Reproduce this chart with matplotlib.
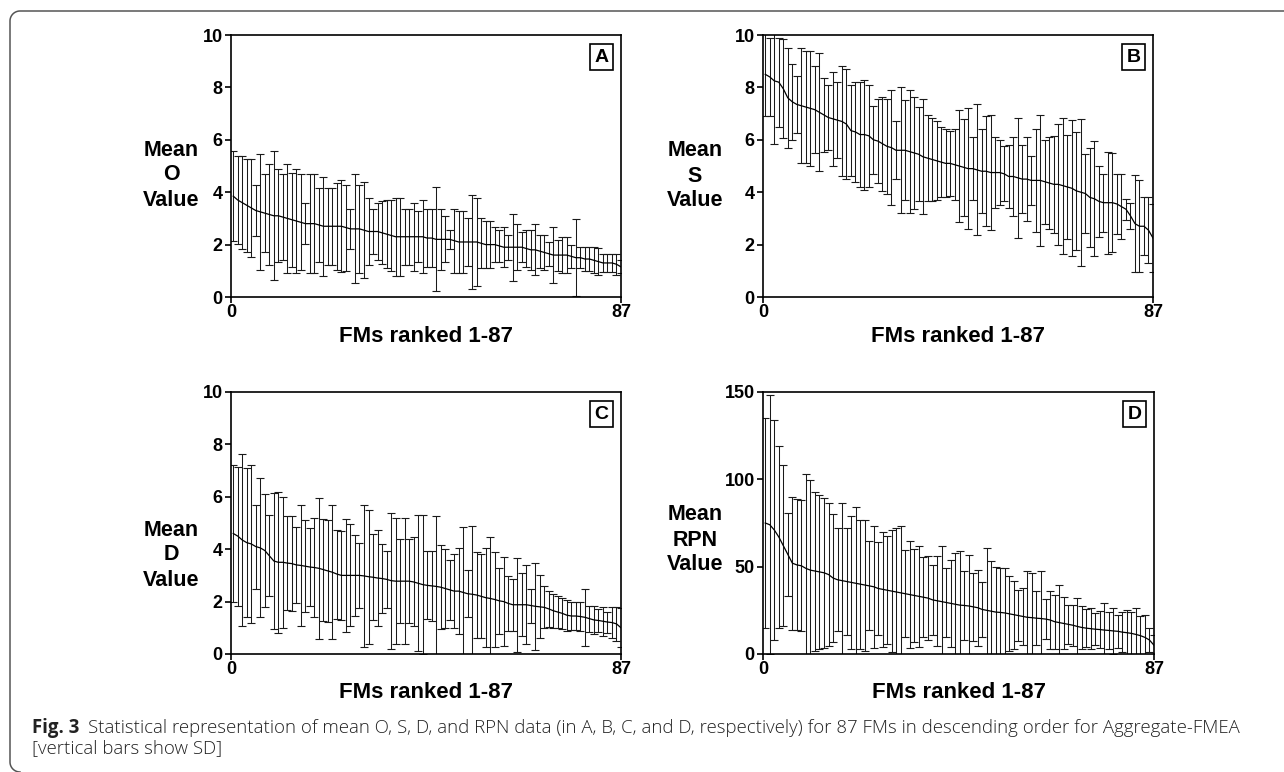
import numpy as np
import matplotlib
matplotlib.use('Agg')
import matplotlib.pyplot as plt
from matplotlib.lines import Line2D

# ---------------- data ----------------
n_fm = 87
rank_ticks = [0, 87]
rank_ticklabels = ['0', '87']

o_mean = [3.85, 3.7, 3.6, 3.5, 3.4, 3.3, 3.25, 3.2, 3.15, 3.1, 3.1, 3.05, 3.0, 2.95, 2.9,
          2.85, 2.8, 2.8, 2.8, 2.75, 2.7, 2.7, 2.7, 2.7, 2.7, 2.65, 2.6, 2.6, 2.6, 2.55,
          2.5, 2.5, 2.5, 2.45, 2.4, 2.35, 2.3, 2.3, 2.3, 2.3, 2.3, 2.3, 2.3, 2.25, 2.25,
          2.2, 2.2, 2.2, 2.2, 2.15, 2.1, 2.1, 2.1, 2.1, 2.1, 2.05, 2.0, 2.0, 2.0, 1.95,
          1.9, 1.9, 1.9, 1.9, 1.9, 1.85, 1.8, 1.8, 1.75, 1.7, 1.65, 1.6, 1.6, 1.6, 1.6,
          1.55, 1.5, 1.5, 1.45, 1.45, 1.4, 1.35, 1.3, 1.3, 1.3, 1.25, 1.15]
o_sd = [1.72, 1.68, 1.78, 1.77, 1.87, 0.99, 2.22, 1.48, 1.94, 2.47, 1.77, 1.63, 2.08, 1.79, 1.97,
        1.83, 0.79, 1.88, 1.88, 1.42, 1.88, 1.47, 1.47, 1.66, 1.75, 1.64, 0.77, 2.08, 1.69, 1.84,
        1.28, 0.87, 1.09, 1.20, 1.29, 1.34, 1.48, 1.48, 1.07, 1.07, 1.29, 0.98, 1.39, 1.12, 1.12,
        1.99, 1.17, 0.88, 0.37, 1.22, 1.17, 1.17, 0.90, 1.78, 1.68, 0.95, 0.89, 0.89, 0.67, 0.62,
        0.77, 0.48, 1.28, 0.87, 0.58, 0.69, 0.77, 0.97, 0.63, 0.68, 0.45, 1.07, 0.59, 0.69, 0.70,
        0.45, 1.48, 0.41, 0.45, 0.44, 0.49, 0.52, 0.35, 0.35, 0.35, 0.40, 0.25]

s_mean = [8.5, 8.4, 8.25, 8.2, 7.95, 7.6, 7.45, 7.35, 7.3, 7.25, 7.2, 7.15, 7.05, 6.95, 6.85,
          6.8, 6.75, 6.7, 6.6, 6.35, 6.3, 6.2, 6.2, 6.15, 6.0, 5.95, 5.85, 5.75, 5.7, 5.6,
          5.6, 5.6, 5.55, 5.5, 5.45, 5.35, 5.3, 5.25, 5.2, 5.15, 5.1, 5.1, 5.05, 5.0, 4.95,
          4.9, 4.9, 4.85, 4.8, 4.8, 4.75, 4.75, 4.75, 4.7, 4.6, 4.6, 4.55, 4.5, 4.5, 4.45,
          4.45, 4.45, 4.4, 4.35, 4.3, 4.3, 4.25, 4.2, 4.15, 4.05, 4.0, 3.95, 3.8, 3.75, 3.65,
          3.6, 3.6, 3.6, 3.55, 3.45, 3.35, 3.1, 2.8, 2.7, 2.7, 2.55, 2.25]
s_sd = [1.6, 1.5, 2.4, 1.7, 1.9, 1.9, 1.45, 1.1, 2.2, 2.15, 2.2, 1.65, 2.25, 1.4, 1.25,
        1.8, 1.45, 2.1, 2.1, 1.75, 1.9, 2.0, 2.1, 1.95, 1.3, 1.6, 1.8, 1.8, 2.2, 1.1,
        2.4, 1.9, 2.35, 2.15, 1.8, 2.2, 1.65, 1.6, 1.5, 1.35, 1.3, 1.25, 1.35, 2.15, 1.85,
        2.3, 1.2, 2.5, 1.6, 2.1, 2.2, 1.35, 1.25, 1.05, 1.2, 1.5, 2.3, 1.3, 1.6, 0.95,
        1.95, 2.5, 1.6, 1.75, 1.85, 2.3, 2.6, 2.0, 2.6, 2.25, 2.8, 1.5, 1.9, 2.2, 1.35,
        1.1, 1.95, 1.9, 1.15, 1.25, 0.4, 0.5, 1.85, 1.75, 1.1, 1.25, 1.3]

d_mean = [4.6, 4.5, 4.35, 4.25, 4.2, 4.1, 4.05, 3.95, 3.75, 3.55, 3.5, 3.5, 3.47, 3.45, 3.4,
          3.38, 3.35, 3.32, 3.3, 3.27, 3.22, 3.17, 3.12, 3.05, 3.0, 3.0, 3.0, 3.0, 3.0, 2.98,
          2.95, 2.93, 2.9, 2.88, 2.85, 2.8, 2.78, 2.78, 2.78, 2.78, 2.75, 2.7, 2.65, 2.62, 2.6,
          2.58, 2.55, 2.5, 2.45, 2.4, 2.4, 2.35, 2.3, 2.28, 2.25, 2.2, 2.15, 2.12, 2.08, 2.03,
          2.0, 1.93, 1.88, 1.88, 1.88, 1.88, 1.85, 1.82, 1.8, 1.78, 1.72, 1.65, 1.6, 1.55, 1.48,
          1.45, 1.45, 1.43, 1.4, 1.35, 1.3, 1.28, 1.25, 1.22, 1.2, 1.15, 1.0]
d_sd = [2.6, 2.65, 3.3, 2.85, 3.0, 1.6, 2.65, 2.15, 1.55, 2.6, 2.7, 2.5, 1.8, 1.8, 1.45,
        2.3, 1.75, 1.5, 1.9, 2.7, 1.95, 1.95, 2.55, 1.7, 1.7, 2.15, 1.95, 1.55, 1.25, 2.7,
        2.55, 1.65, 1.85, 1.3, 1.1, 2.6, 2.4, 1.6, 2.4, 1.6, 1.7, 2.6, 2.65, 1.3, 1.35,
        2.7, 1.6, 1.5, 1.15, 1.4, 1.65, 2.5, 0.9, 2.6, 1.65, 1.6, 1.9, 2.35, 1.8, 1.25,
        1.7, 1.05, 1.0, 1.8, 1.2, 1.5, 0.65, 1.65, 1.2, 0.8, 0.7, 0.65, 0.6, 0.6, 0.6,
        0.55, 0.55, 0.55, 1.1, 0.5, 0.55, 0.45, 0.55, 0.4, 0.6, 0.65, 0.75]

rpn_mean = [75, 74, 71, 67, 62, 57, 52, 51, 50.5, 49, 48, 47.5, 47, 46.5, 45.5,
            43.5, 42.5, 42, 41.5, 41, 40.5, 40, 39.5, 39, 38.5, 37.5, 37, 36.5, 36, 35.5,
            35, 34.5, 34, 33.5, 33, 32.5, 32, 31, 30.5, 30, 29.5, 29, 28.5, 28, 27.8,
            27.5, 27, 26.5, 25.5, 25, 24.5, 24, 23.8, 23.5, 23, 22.5, 22, 21.5, 21, 20.8,
            20.5, 20.3, 20, 19.5, 18.5, 18, 17.5, 17, 16.5, 15.8, 15.2, 14.8, 14.5, 14.2, 14,
            13.7, 13.5, 13.2, 13, 12.5, 12.2, 11.8, 11.2, 10.5, 9.5, 8, 5]
rpn_sd = [60, 74, 63, 52, 46, 24, 38, 37.5, 37.5, 54, 51.5, 45.5, 44, 43, 41,
          36.5, 29.5, 44.5, 30.5, 38, 43.5, 37, 37.5, 25.5, 35, 26.5, 33, 31, 35, 36.5,
          38, 25, 30.5, 26.5, 29, 23, 24, 20, 25.8, 32, 20, 25, 29.3, 31, 19.5,
          29, 19.5, 21.8, 15.5, 35.7, 29, 25.8, 25.4, 26, 21.5, 19.5, 14.5, 16.3, 26.3, 25.6,
          15.4, 27, 11.5, 16.4, 15.5, 21.7, 14.9, 11.2, 11.7, 16.2, 12.1, 11, 11.8, 9.3, 10.8,
          15.6, 10.4, 13.1, 9.5, 11.4, 13.2, 12.2, 15.1, 11.4, 13, 6.9, 6]

caption_bold = 'Fig. 3'
caption_text = ('Statistical representation of mean O, S, D, and RPN data (in A, B, C, and D, '
                'respectively) for 87 FMs in descending order for Aggregate-FMEA')
caption_line2 = '[vertical bars show SD]'

# ---------------- figure ----------------
W, H = 1284, 772
plt.rcParams['font.family'] = ['Liberation Sans', 'DejaVu Sans']
plt.rcParams['font.weight'] = 'bold'
fig = plt.figure(figsize=(W / 100, H / 100), dpi=100)


def fx(px):
    return px / W


def fy(py):
    return 1 - py / H


panels = [
    dict(mean=o_mean, sd=o_sd, letter='A', ylab='Mean\nO\nValue', ylim=(0, 10),
         yticks=[0, 2, 4, 6, 8, 10], box=(231, 35, 621, 297), lab=(171, 175)),
    dict(mean=s_mean, sd=s_sd, letter='B', ylab='Mean\nS\nValue', ylim=(0, 10),
         yticks=[0, 2, 4, 6, 8, 10], box=(763, 35, 1153, 297), lab=(695, 176)),
    dict(mean=d_mean, sd=d_sd, letter='C', ylab='Mean\nD\nValue', ylim=(0, 10),
         yticks=[0, 2, 4, 6, 8, 10], box=(231, 392, 621, 654), lab=(171, 555)),
    dict(mean=rpn_mean, sd=rpn_sd, letter='D', ylab='Mean\nRPN\nValue', ylim=(0, 150),
         yticks=[0, 50, 100, 150], box=(763, 392, 1154, 654), lab=(695, 540)),
]

xpos = np.linspace(0.5, n_fm, n_fm)

for p in panels:
    l, t, r, b = p['box']
    ax = fig.add_axes([fx(l), fy(b), (r - l) / W, (b - t) / H])
    ax.errorbar(xpos, p['mean'], yerr=p['sd'], fmt='none', ecolor='#1a1a1a',
                elinewidth=0.75, capsize=3.0, capthick=0.8)
    ax.plot(xpos, p['mean'], color='black', lw=0.9)
    ax.set_xlim(0, n_fm)
    ax.set_ylim(*p['ylim'])
    ax.set_yticks(p['yticks'])
    ax.set_xticks(rank_ticks)
    ax.set_xticklabels(rank_ticklabels)
    for s in ax.spines.values():
        s.set_linewidth(1.2)
        s.set_color('black')
    ax.tick_params(axis='both', direction='out', length=4, width=1.2,
                   labelsize=13, colors='black')
    ax.tick_params(axis='x', pad=1)
    ax.tick_params(axis='y', pad=2)
    for lab in ax.get_xticklabels() + ax.get_yticklabels():
        lab.set_fontweight('bold')
    ax.text(0.95, 0.916, p['letter'], transform=ax.transAxes, ha='center', va='center',
            fontsize=14, fontweight='bold',
            bbox=dict(boxstyle='square,pad=0.25', fc='white', ec='black', lw=1.2))
    fig.text(fx(p['lab'][0]), fy(p['lab'][1]), p['ylab'], ha='center', va='center',
             multialignment='center', fontsize=15.5, fontweight='bold', linespacing=1.25)
    fig.text(fx((l + r) / 2), fy(b + 39), 'FMs ranked 1-87', ha='center', va='center',
             fontsize=16, fontweight='bold')

# caption
cap_fs = 13.4
t1 = fig.text(fx(32), fy(733), caption_bold, fontsize=cap_fs, fontweight='bold',
              family=['Open Sans', 'DejaVu Sans'], va='baseline', color='#222222')
fig.canvas.draw()
bb = t1.get_window_extent(renderer=fig.canvas.get_renderer())
fig.text((bb.x1 + 9) / W, fy(733), caption_text, fontsize=cap_fs, fontweight='light',
         family=['Open Sans', 'DejaVu Sans'], va='baseline', color='#222222')
fig.text(fx(32), fy(753), caption_line2, fontsize=cap_fs, fontweight='light',
         family=['Open Sans', 'DejaVu Sans'], va='baseline', color='#222222')

# frame around the figure (top and left edges with rounded corners)
rad = 10
ang1 = np.linspace(np.pi / 2, np.pi, 20)
ang2 = np.linspace(np.pi, 1.5 * np.pi, 20)
xs = [W] + list(10 + rad + rad * np.cos(ang1)) + list(10 + rad + rad * np.cos(ang2))
ys = [11] + list(11 + rad - rad * np.sin(ang1)) + list(762 - rad * np.sin(ang2))
fig.add_artist(Line2D([fx(v) for v in xs], [fy(v) for v in ys], color='#555555', lw=1.1,
                      transform=fig.transFigure))

fig.savefig('out.png', dpi=100)
